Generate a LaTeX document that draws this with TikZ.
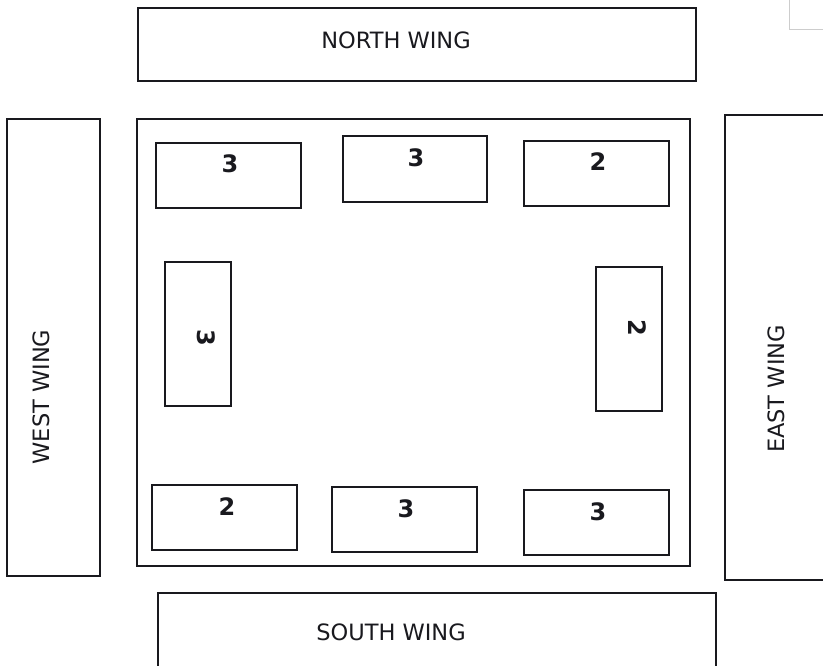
\documentclass[tikz,border=0pt]{standalone}
\usepackage{fontspec}
\setmainfont{DejaVu Sans}
\usetikzlibrary{positioning}
\definecolor{plandark}{RGB}{25,25,30}
\definecolor{planfaint}{RGB}{205,205,205}

\begin{document}
\begin{tikzpicture}[
    x=1pt, y=-1pt,
    wingbox/.style={draw=plandark, line width=1.1pt},
    tablebox/.style={draw=plandark, line width=1.1pt},
    winglabel/.style={font=\fontsize{22.5}{26}\selectfont, text=plandark},
    seatnum/.style={font=\bfseries\fontsize{24}{28}\selectfont, text=plandark}
]
\useasboundingbox (0,0) rectangle (823,666);
\clip (0,0) rectangle (823,666);

% Wings around the hall
\draw[wingbox] (138,8) rectangle (696,81);
\draw[wingbox] (7,119) rectangle (100,576);
\draw[wingbox] (725,115) rectangle (840,580);
\draw[wingbox] (158,593) rectangle (716,680);
\draw[draw=planfaint, line width=0.8pt] (789,-5) rectangle (840,29);
\node[winglabel] (north) at (396,40) {NORTH WING};
\node[winglabel, rotate=90] (west) at (41,397) {WEST WING};
\node[winglabel, rotate=90] (east) at (776,389) {EAST WING};
\node[winglabel] (south) at (391,632) {SOUTH WING};

% Hall
\draw[wingbox] (137,119) rectangle (690,566);

% Tables: top row
\draw[tablebox] (156,143) rectangle (301,208);
\draw[tablebox] (343,136) rectangle (487,202);
\draw[tablebox] (524,141) rectangle (669,206);
\node[seatnum] (tl) at (230,164) {3};
\node[seatnum] (tm) at (416,158) {3};
\node[seatnum] (tr) at (598,162) {2};

% Tables: sides
\draw[tablebox] (165,262) rectangle (231,406);
\draw[tablebox] (596,267) rectangle (662,411);
\node[seatnum, rotate=-90] (ml) at (206,338) {3};
\node[seatnum, rotate=-90] (mr) at (637,328) {2};

% Tables: bottom row
\draw[tablebox] (152,485) rectangle (297,550);
\draw[tablebox] (332,487) rectangle (477,552);
\draw[tablebox] (524,490) rectangle (669,555);
\node[seatnum] (bl) at (227,507) {2};
\node[seatnum] (bm) at (406,509) {3};
\node[seatnum] (br) at (598,512) {3};

\end{tikzpicture}
\end{document}
